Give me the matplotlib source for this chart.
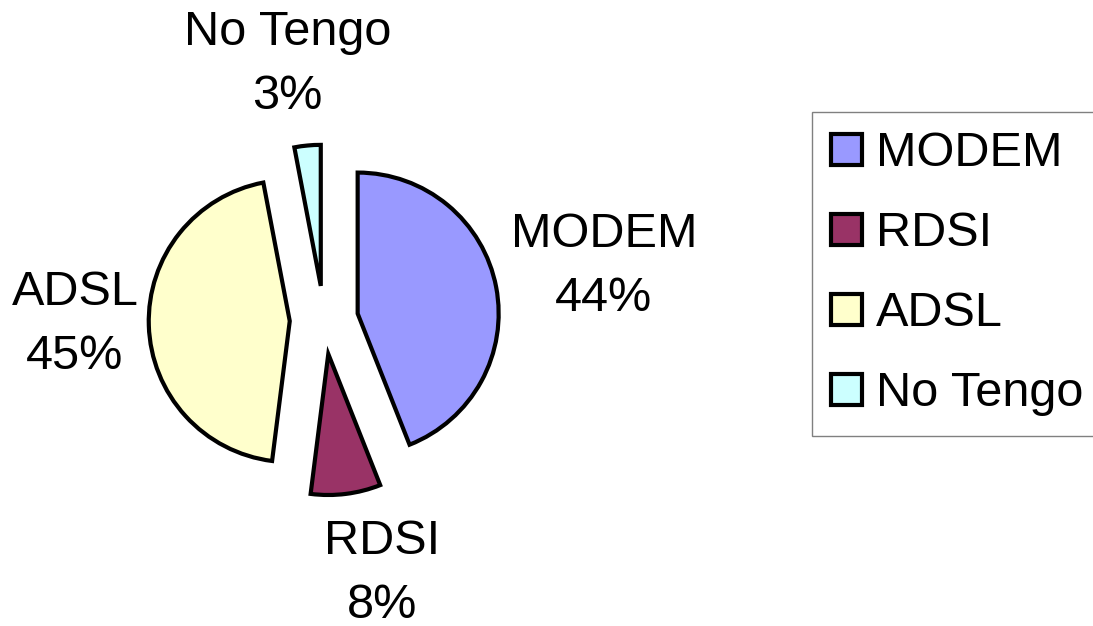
import numpy as np
import matplotlib.pyplot as plt
from matplotlib.patches import Patch

plt.rcParams['font.family'] = ['Liberation Sans', 'DejaVu Sans']

# datos
categorias = ["MODEM", "RDSI", "ADSL", "No Tengo"]
porcentajes = [44, 8, 45, 3]
colores = ["#9999FF", "#993366", "#FFFFCC", "#CCFFFF"]

explode = [0.243] * len(categorias)
# distancia y giro de cada etiqueta respecto al centro de la tarta
label_r = [2.02, 1.845, 1.766, 1.828]
label_dang = [0.0, 5.7, -0.7, 2.8]

W, H = 1093, 626
cx, cy, rpx = 324, 320, 141

fig = plt.figure(figsize=(W / 100, H / 100), dpi=100)
ax = fig.add_axes([0, 0, 1, 1])

wedges, _ = ax.pie(porcentajes, colors=colores, startangle=90, counterclock=False,
                   explode=explode, radius=1.0,
                   wedgeprops=dict(edgecolor="black", linewidth=3.0))

for w, nombre, p, r, da in zip(wedges, categorias, porcentajes, label_r, label_dang):
    mid = np.deg2rad((w.theta1 + w.theta2) / 2 + da)
    ax.text(r * np.cos(mid), r * np.sin(mid), f"{nombre}\n{p}%",
            ha="center", va="center", fontsize=35, linespacing=1.54)

ax.set_xlim(-cx / rpx, (W - cx) / rpx)
ax.set_ylim(-(H - cy) / rpx, cy / rpx)
ax.set_aspect("auto")
ax.axis("off")

handles = [Patch(facecolor=c, edgecolor="black", linewidth=3.0) for c in colores]
leg = fig.legend(handles, categorias, loc="upper left",
                 bbox_to_anchor=(812 / W, 1 - 112 / H), borderaxespad=0,
                 fontsize=35, handlelength=0.62, handleheight=0.62,
                 handletextpad=0.3, labelspacing=0.72, borderpad=0.4,
                 fancybox=False, framealpha=1)
leg.get_frame().set_edgecolor("#808080")
leg.get_frame().set_linewidth(1.0)

fig.savefig("out.png", dpi=100)
